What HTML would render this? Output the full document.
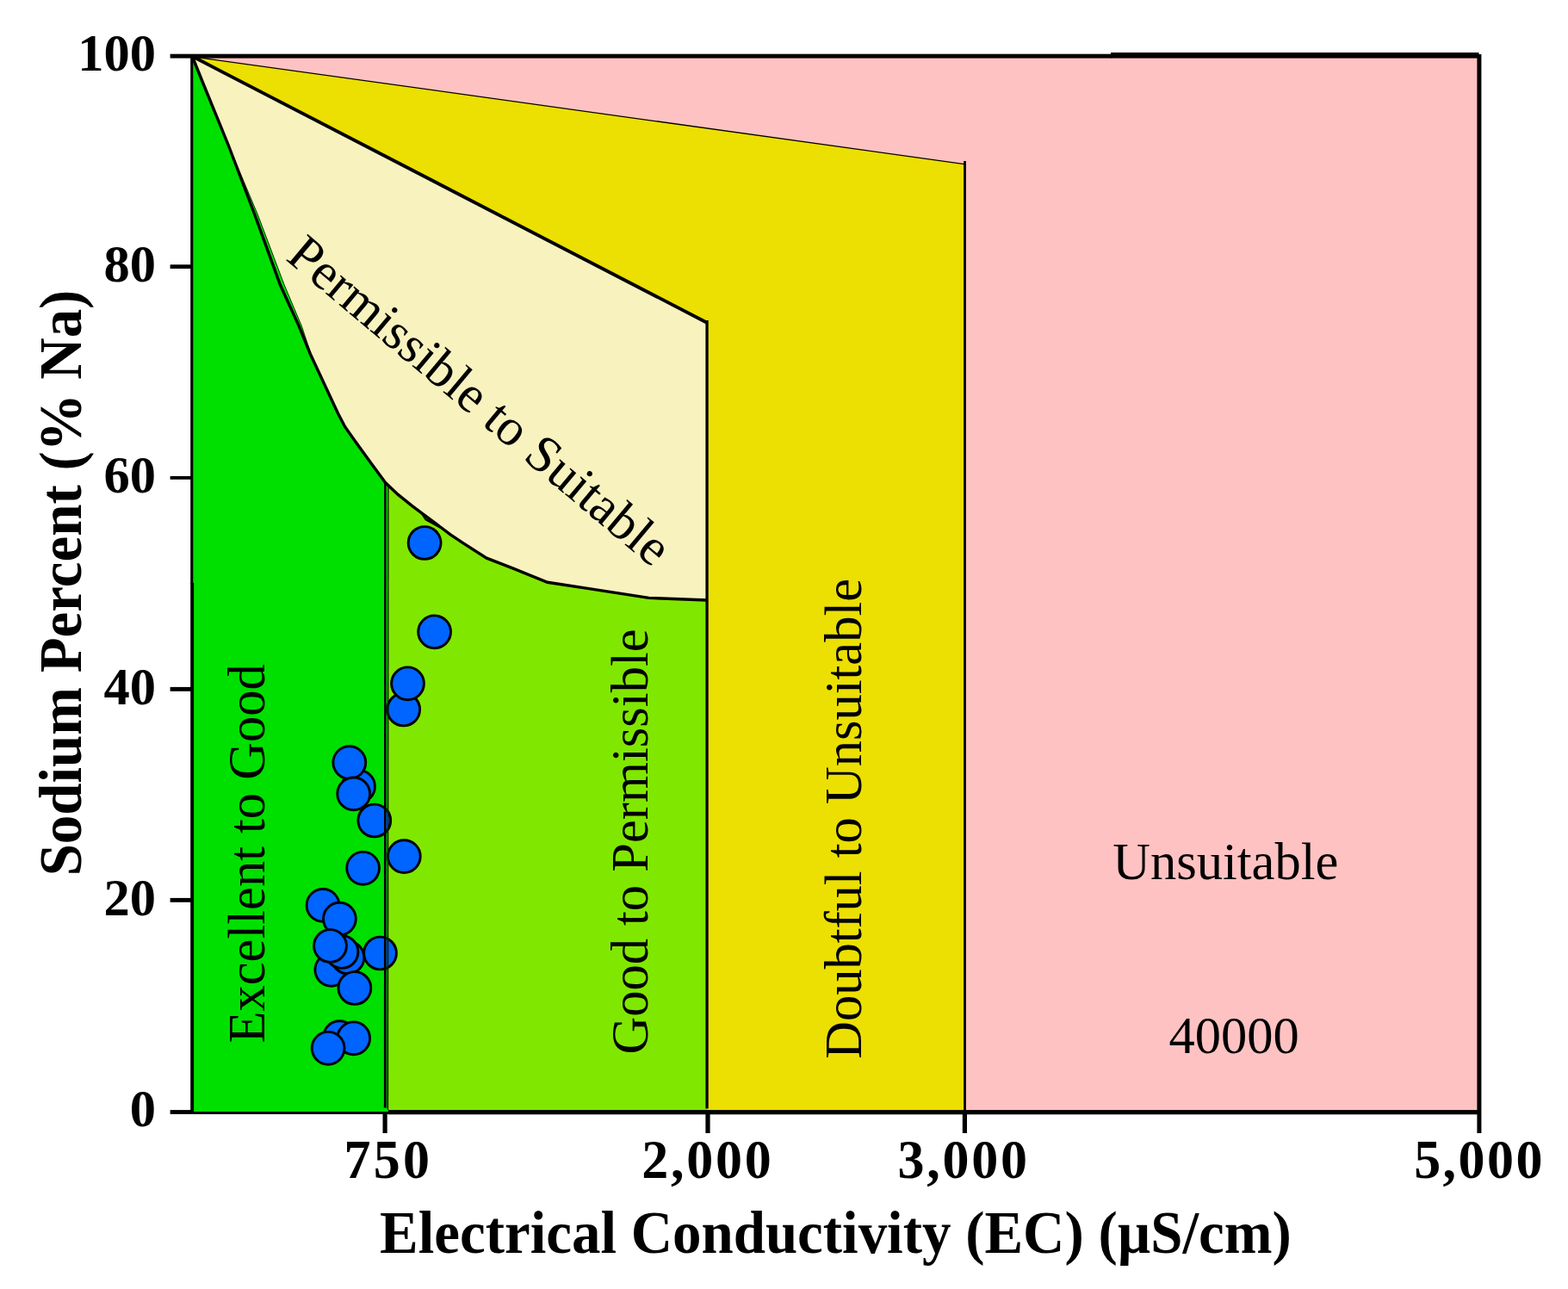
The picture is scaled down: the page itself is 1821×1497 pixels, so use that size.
<!DOCTYPE html>
<html lang="en"><head><meta charset="utf-8"><title>Wilcox diagram</title>
<style>html,body{margin:0;padding:0;background:#fff}body{width:1821px;height:1497px;overflow:hidden}svg{display:block}text{font-family:"Liberation Serif","DejaVu Serif",serif;fill:#000}.b{font-weight:bold}</style>
</head><body>
<svg xmlns="http://www.w3.org/2000/svg" width="1821" height="1497" viewBox="0 0 1821 1497">
<rect x="0" y="0" width="1821" height="1497" fill="#fff"/>
<rect x="223" y="65" width="1495" height="1227" fill="#ffc2c2"/>
<polygon points="223,65.8 1120,190.6 1120,1292 223,1292" fill="#ecdf02"/>
<polygon points="223,65.8 821,374.8 821,1292 223,1292" fill="#f8f2bf"/>
<polygon points="447.6,560.5 462,574.2 478.4,587.3 489.4,595.6 511.4,612 522.4,620.3 537.7,630.6 565.1,648.2 595.3,659.8 635.8,676.3 682.4,683.4 753.5,694.4 821,697 821,1291 447,1291" fill="#80e800"/>
<polygon points="223.5,66 237.2,100 266,170 299.6,250 330.2,331 350.6,379.4 361,411 392.5,480 400.7,495.7 414.7,515.6 431.2,538.2 447.6,560.5 450.6,563 450.6,1291 223,1291" fill="#00e000"/>
<g fill="none" stroke="#000" stroke-linejoin="miter">
<line x1="223.5" y1="65.8" x2="1120" y2="190.6" stroke-width="1.3"/>
<line x1="1120.5" y1="187" x2="1120.5" y2="1290" stroke-width="2.8"/>
<line x1="223.5" y1="65.6" x2="821" y2="374.7" stroke-width="3.9"/>
<line x1="821.05" y1="372" x2="821.05" y2="1287.5" stroke-width="3.3"/>
<polyline points="223.5,66 237.2,100 266,170 299.6,250 330.2,331 350.6,379.4 361,411 392.5,480 400.7,495.7 414.7,515.6 431.2,538.2 447.6,560.5" stroke="#0a3000" stroke-width="1"/>
<polyline points="223.5,66 237.2,100 265.8,170 296.1,250 325.5,331 347.5,379.4 360.3,411 392.5,480 400.7,495.7 414.7,515.6 431.2,538.2 447.6,560.5 462,574.2 478.4,587.3 489.4,595.6 511.4,612 522.4,620.3 537.7,630.6 565.1,648.2 595.3,659.8 635.8,676.3 682.4,683.4 753.5,694.4 821,697" stroke-width="3.4"/>
<polyline points="489.4,595.6 494.6,603.4 511.4,612.6" stroke-width="2.4"/>
</g>
<g fill="#0064ff" stroke="#000" stroke-width="2.9">
<circle cx="493.1" cy="630.5" r="18.9"/>
<circle cx="504.6" cy="733.8" r="18.9"/>
<circle cx="468.7" cy="824" r="18.9"/>
<circle cx="473.5" cy="793.8" r="18.9"/>
<circle cx="416.5" cy="913.4" r="18.9"/>
<circle cx="405.8" cy="885.6" r="18.9"/>
<circle cx="410.7" cy="921.9" r="18.9"/>
<circle cx="434.8" cy="953" r="18.9"/>
<circle cx="469.3" cy="994.6" r="18.9"/>
<circle cx="421.6" cy="1008.3" r="18.9"/>
<circle cx="375" cy="1051.4" r="18.9"/>
<circle cx="394.4" cy="1067.1" r="18.9"/>
<circle cx="384.8" cy="1126.3" r="18.9"/>
<circle cx="404" cy="1112" r="18.9"/>
<circle cx="397" cy="1105.5" r="18.9"/>
<circle cx="383.5" cy="1098.5" r="18.9"/>
<circle cx="411.9" cy="1147.5" r="18.9"/>
<circle cx="441.5" cy="1107" r="18.9"/>
<circle cx="394.4" cy="1204.6" r="18.9"/>
<circle cx="410.7" cy="1205.8" r="18.9"/>
<circle cx="381.1" cy="1217.3" r="18.9"/>
</g>
<defs><linearGradient id="gd" gradientUnits="userSpaceOnUse" x1="0" y1="640" x2="0" y2="1287"><stop offset="0" stop-color="#003c00" stop-opacity="0"/><stop offset="1" stop-color="#003c00" stop-opacity="0.7"/></linearGradient></defs>
<rect x="448.3" y="640" width="2" height="647" fill="url(#gd)"/>
<line x1="450.95" y1="565" x2="450.5" y2="1289" stroke="#042000" stroke-width="1.3"/>
<line x1="447.4" y1="561" x2="447.1" y2="1286.5" stroke="#000" stroke-width="2.5"/>
<g fill="#000">
<rect x="197.6" y="62.7" width="1093" height="4.9"/>
<rect x="1290" y="61" width="427.5" height="6.6"/>
<rect x="221.2" y="63" width="3.1" height="615"/>
<rect x="221.2" y="677" width="3.9" height="617"/>
<rect x="1715.4" y="63" width="5" height="1253"/>
<rect x="197.6" y="1289.1" width="27" height="4.8"/>
<rect x="224" y="1291" width="227" height="3"/>
<rect x="450.8" y="1289.1" width="1269" height="5.2"/>
<rect x="197.6" y="307.30" width="25" height="4.7"/>
<rect x="197.6" y="552.95" width="25" height="3.9"/>
<rect x="197.6" y="797.90" width="25" height="4.9"/>
<rect x="197.6" y="1042.90" width="25" height="4.9"/>
<rect x="444.5" y="1291" width="5.2" height="25"/>
<rect x="819.4" y="1291" width="5.2" height="25"/>
<rect x="1117.8" y="1291" width="5.2" height="25"/>
</g>
<g class="b" font-size="60.5" text-anchor="end">
<text x="181" y="81.8">100</text>
<text x="181" y="327.1">80</text>
<text x="181" y="572.3">60</text>
<text x="181" y="817.6">40</text>
<text x="181" y="1062.8">20</text>
<text x="181" y="1308.1">0</text>
</g>
<g class="b" font-size="63" text-anchor="middle">
<text transform="translate(450.94 1368.3) scale(0.984 1)" letter-spacing="3.29">750</text>
<text transform="translate(821.91 1368.3) scale(0.984 1)" letter-spacing="2.83">2,000</text>
<text transform="translate(1119.21 1368.3) scale(0.984 1)" letter-spacing="2.83">3,000</text>
<text transform="translate(1718.06 1368.3) scale(0.984 1)" letter-spacing="2.52">5,000</text>
</g>
<text class="b" font-size="69.3" text-anchor="middle" transform="translate(970.4 1454.9) scale(0.9655 1)">Electrical Conductivity (EC) (µS/cm)</text>
<text class="b" font-size="69.3" text-anchor="middle" transform="translate(93.9 677) rotate(-90) scale(0.9655 1)">Sodium Percent (% Na)</text>
<g font-size="60.5">
<text transform="translate(307.2 1211.5) rotate(-90)">Excellent to Good</text>
<text transform="translate(752 1224.5) rotate(-90)">Good to Permissible</text>
<text transform="translate(1000.1 1229.8) rotate(-90)">Doubtful to Unsuitable</text>
<text x="1292.2" y="1021.1">Unsuitable</text>
<text x="1357.5" y="1222.9">40000</text>
<text transform="translate(330.6 301.1) rotate(40)">Permissible to Suitable</text>
</g>
</svg>
</body></html>
